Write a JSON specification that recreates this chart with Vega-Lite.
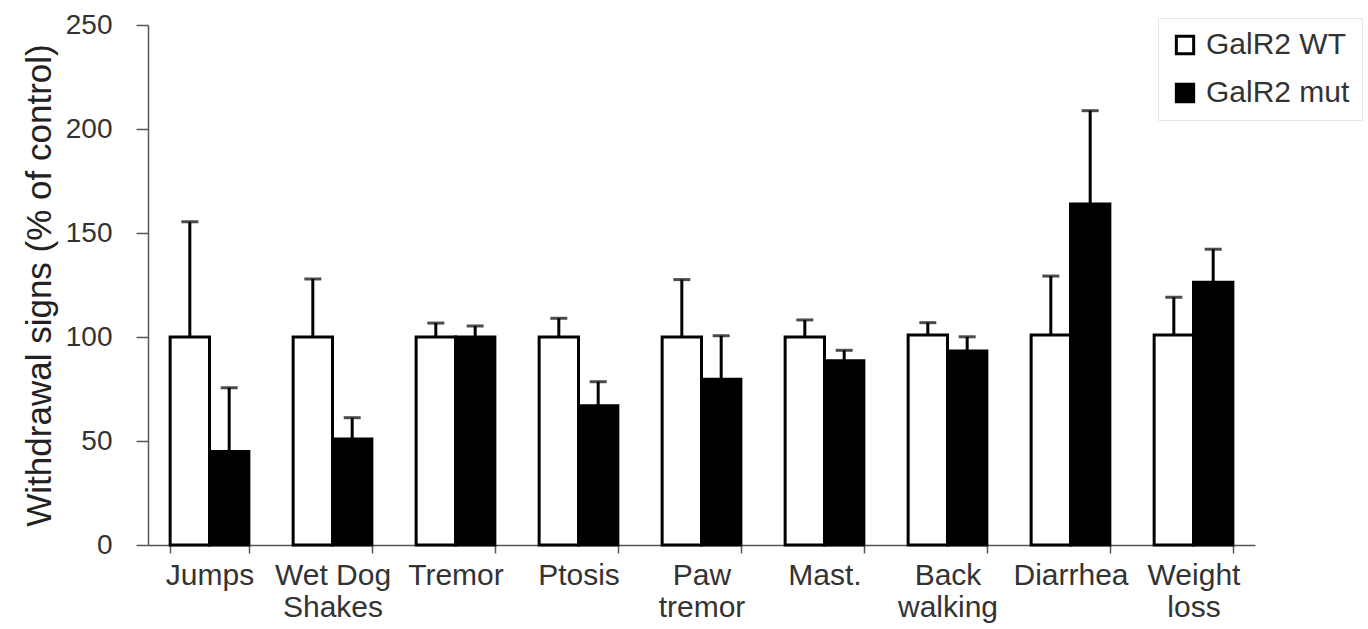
{
  "$schema": "https://vega.github.io/schema/vega-lite/v6.json",
  "width": 1107,
  "height": 520,
  "autosize": "none",
  "padding": {"left": 148, "top": 25, "right": 113, "bottom": 84},
  "background": "white",
  "config": {"view": {"stroke": null}, "font": "Liberation Sans"},
  "data": {
    "values": [
      {"sign": "Jumps", "group": "GalR2 WT", "value": 100, "upper": 155.4},
      {"sign": "Jumps", "group": "GalR2 mut", "value": 44.9, "upper": 75.6},
      {"sign": "Wet Dog|Shakes", "group": "GalR2 WT", "value": 100, "upper": 127.9},
      {"sign": "Wet Dog|Shakes", "group": "GalR2 mut", "value": 51, "upper": 61.2},
      {"sign": "Tremor", "group": "GalR2 WT", "value": 100, "upper": 106.7},
      {"sign": "Tremor", "group": "GalR2 mut", "value": 100, "upper": 105.3},
      {"sign": "Ptosis", "group": "GalR2 WT", "value": 100, "upper": 109},
      {"sign": "Ptosis", "group": "GalR2 mut", "value": 67, "upper": 78.5},
      {"sign": "Paw|tremor", "group": "GalR2 WT", "value": 100, "upper": 127.6},
      {"sign": "Paw|tremor", "group": "GalR2 mut", "value": 79.7, "upper": 100.6},
      {"sign": "Mast.", "group": "GalR2 WT", "value": 100, "upper": 108.2},
      {"sign": "Mast.", "group": "GalR2 mut", "value": 88.6, "upper": 93.6},
      {"sign": "Back|walking", "group": "GalR2 WT", "value": 101, "upper": 106.9},
      {"sign": "Back|walking", "group": "GalR2 mut", "value": 93.3, "upper": 100.1},
      {"sign": "Diarrhea", "group": "GalR2 WT", "value": 101, "upper": 129.3},
      {"sign": "Diarrhea", "group": "GalR2 mut", "value": 164, "upper": 208.8},
      {"sign": "Weight|loss", "group": "GalR2 WT", "value": 101, "upper": 119.1},
      {"sign": "Weight|loss", "group": "GalR2 mut", "value": 126.3, "upper": 142.2}
    ]
  },
  "encoding": {
    "x": {
      "field": "sign",
      "type": "nominal",
      "sort": null,
      "scale": {"paddingInner": 0.36, "paddingOuter": 0.18},
      "axis": {
        "title": null,
        "labelAngle": 0,
        "labelExpr": "split(datum.label, '|')",
        "labelFontSize": 30,
        "labelColor": "#333",
        "labelLineHeight": 32,
        "labelPadding": 7,
        "tickBand": "extent",
        "tickSize": 8,
        "tickColor": "#555",
        "tickWidth": 1.5,
        "domainColor": "#555",
        "domainWidth": 1.5
      }
    },
    "xOffset": {"field": "group", "type": "nominal", "sort": ["GalR2 WT", "GalR2 mut"], "scale": {"paddingInner": 0}}
  },
  "layer": [
    {
      "mark": {"type": "bar", "stroke": "black", "strokeWidth": 3},
      "encoding": {
        "y": {
          "field": "value",
          "type": "quantitative",
          "scale": {"domain": [0, 250], "nice": false},
          "axis": {
            "values": [0, 50, 100, 150, 200, 250],
            "grid": false,
            "labelFontSize": 28,
            "labelColor": "#333",
            "labelPadding": 24,
            "tickSize": 12,
            "tickColor": "#555",
            "tickWidth": 1.5,
            "domainColor": "#555",
            "domainWidth": 1.5,
            "title": "Withdrawal signs (% of control)",
            "titleFontSize": 35,
            "titleFontWeight": "normal",
            "titleColor": "#222",
            "titlePadding": 8
          }
        },
        "fill": {
          "field": "group",
          "type": "nominal",
          "scale": {"domain": ["GalR2 WT", "GalR2 mut"], "range": ["white", "black"]},
          "legend": {
            "title": null,
            "orient": "none",
            "legendX": 1010,
            "legendY": -7,
            "padding": 12,
            "strokeColor": "#e6e6e6",
            "fillColor": "white",
            "symbolType": "square",
            "symbolSize": 300,
            "symbolStrokeColor": "black",
            "symbolStrokeWidth": 3,
            "labelFontSize": 30,
            "labelColor": "#333",
            "labelOffset": 6,
            "rowPadding": 18
          }
        }
      }
    },
    {
      "mark": {"type": "rule", "strokeWidth": 3, "color": "black"},
      "encoding": {
        "y": {"field": "value", "type": "quantitative"},
        "y2": {"field": "upper"}
      }
    },
    {
      "mark": {"type": "tick", "size": 17, "thickness": 3, "color": "black"},
      "encoding": {
        "y": {"field": "upper", "type": "quantitative"}
      }
    }
  ]
}
